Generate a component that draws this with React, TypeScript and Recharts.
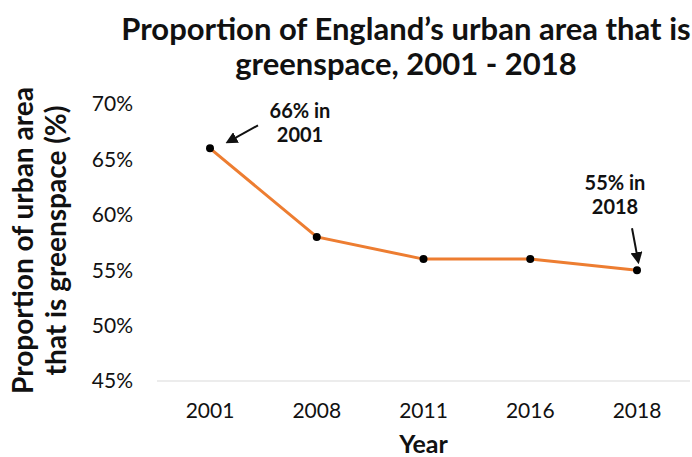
import { LineChart, Line, XAxis, YAxis } from "recharts";

const years = ["2001", "2008", "2011", "2016", "2018"];
const greenspace = [66, 58, 56, 56, 55];
const yTicks = [45, 50, 55, 60, 65, 70];

const data = years.map((year, i) => ({ year, value: greenspace[i] }));

const FONT = "Lato, 'Open Sans', sans-serif";

/** Annotation drawn next to the first and last points, positioned off the point's scaled coords. */
function renderAnnotation(props: any) {
  const { x, y, index } = props;
  if (index === 0) {
    return (
      <g key="a0">
        <text x={x + 90} y={y - 30} textAnchor="middle" fontFamily={FONT} fontWeight={700} fontSize={20} fill="#111">
          {`${greenspace[0]}% in`}
        </text>
        <text x={x + 90} y={y - 6} textAnchor="middle" fontFamily={FONT} fontWeight={700} fontSize={20} fill="#111">
          {years[0]}
        </text>
        <line x1={x + 48} y1={y - 23} x2={x + 19} y2={y - 7} stroke="#111" strokeWidth={2} markerEnd="url(#arrowHead)" />
      </g>
    );
  }
  if (index === years.length - 1) {
    return (
      <g key="a4">
        <text x={x - 22} y={y - 80} textAnchor="middle" fontFamily={FONT} fontWeight={700} fontSize={20} fill="#111">
          {`${greenspace[index]}% in`}
        </text>
        <text x={x - 22} y={y - 56} textAnchor="middle" fontFamily={FONT} fontWeight={700} fontSize={20} fill="#111">
          {years[index]}
        </text>
        <line x1={x - 5} y1={y - 42} x2={x + 1} y2={y - 10} stroke="#111" strokeWidth={2} markerEnd="url(#arrowHead)" />
      </g>
    );
  }
  return null;
}

/** Two-line rotated y-axis title. */
function YTitle(props: any) {
  const { viewBox } = props;
  const cy = viewBox.y + viewBox.height / 2 - 2;
  return (
    <g>
      <text transform={`translate(33, ${cy}) rotate(-90)`} textAnchor="middle" fontFamily={FONT} fontWeight={700} fontSize={28} fill="#111">
        Proportion of urban area
      </text>
      <text transform={`translate(66, ${cy}) rotate(-90)`} textAnchor="middle" fontFamily={FONT} fontWeight={700} fontSize={28} fill="#111">
        that is greenspace (%)
      </text>
    </g>
  );
}

export default function App() {
  return (
    <div style={{ position: "absolute", left: 0, top: 0, width: 692, height: 457, background: "#fff" }}>
      <div
        style={{
          position: "absolute",
          left: 120,
          width: 572,
          top: 11,
          textAlign: "center",
          fontFamily: FONT,
          fontWeight: 700,
          fontSize: 31,
          lineHeight: "35px",
          color: "#111",
        }}
      >
        Proportion of England’s urban area that is
        <br />
        greenspace, 2001 - 2018
      </div>
      <LineChart width={692} height={457} data={data} margin={{ top: 104, right: 2, left: 0, bottom: 0 }}>
        <defs>
          <marker id="arrowHead" markerWidth="6" markerHeight="6" refX="4" refY="3" orient="auto" markerUnits="strokeWidth">
            <path d="M0,0 L6,3 L0,6 z" fill="#111" />
          </marker>
        </defs>
        <XAxis
          dataKey="year"
          padding={{ left: 53, right: 53 }}
          axisLine={{ stroke: "#d9d9d9", strokeWidth: 1 }}
          tickLine={false}
          tickSize={0}
          tickMargin={22}
          tick={{ fill: "#111", fontSize: 21, fontFamily: FONT }}
          height={76}
          label={{ value: "Year", position: "insideBottom", offset: 4, style: { fill: "#111", fontSize: 25, fontWeight: 700, fontFamily: FONT } }}
        />
        <YAxis
          domain={[45, 70]}
          ticks={yTicks}
          width={157}
          axisLine={false}
          tickLine={false}
          tickSize={0}
          tickMargin={24}
          tickFormatter={(v: number) => `${v}%`}
          tick={{ fill: "#111", fontSize: 21, fontFamily: FONT }}
          label={<YTitle />}
        />
        <Line
          type="linear"
          dataKey="value"
          stroke="#ED7D31"
          strokeWidth={3}
          dot={{ r: 4, fill: "#000", stroke: "#000", strokeWidth: 0 }}
          activeDot={false}
          isAnimationActive={false}
          label={renderAnnotation}
        />
      </LineChart>
    </div>
  );
}
